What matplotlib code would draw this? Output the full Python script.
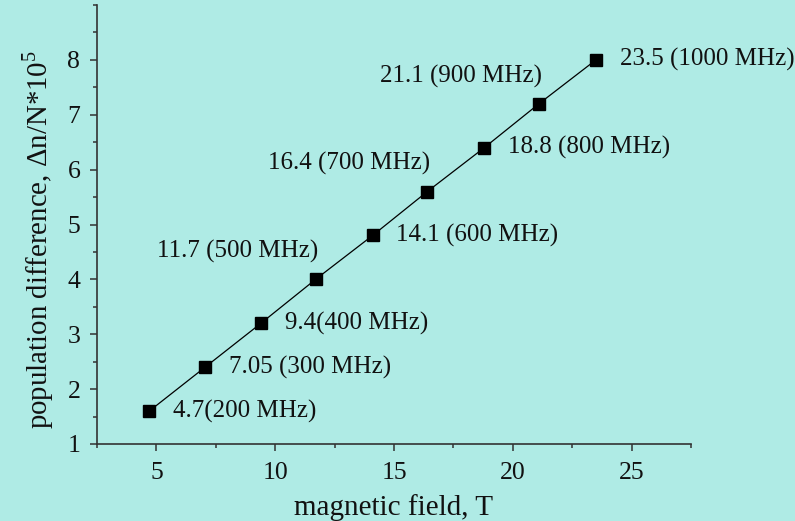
import matplotlib
matplotlib.use("Agg")
import matplotlib.pyplot as plt
from matplotlib.ticker import MultipleLocator

# data: magnetic field (T) vs population difference
field = [4.7, 7.05, 9.4, 11.7, 14.1, 16.4, 18.8, 21.1, 23.5]
pop_diff = [1.6, 2.4, 3.2, 4.0, 4.8, 5.6, 6.4, 7.2, 8.0]
labels = ["4.7(200 MHz)", "7.05 (300 MHz)", "9.4(400 MHz)", "11.7 (500 MHz)",
          "14.1 (600 MHz)", "16.4 (700 MHz)", "18.8 (800 MHz)",
          "21.1 (900 MHz)", "23.5 (1000 MHz)"]
# which labels sit above-left of their point
above_left = [False, False, False, True, False, True, False, True, False]

bg = "#afebe5"
axis_col = "#333333"

plt.rcParams["font.family"] = ["Liberation Serif", "DejaVu Serif"]
plt.rcParams["mathtext.fontset"] = "custom"
plt.rcParams["mathtext.rm"] = "Liberation Serif"

fig = plt.figure(figsize=(7.95, 5.21), dpi=100, facecolor=bg)
ax = fig.add_axes([97 / 795, 77 / 521, 594 / 795, 439 / 521])
ax.set_facecolor(bg)

ax.plot(field, pop_diff, color="black", lw=0.9, marker="s", ms=8.5,
        mfc="black", mec="black")

for x, y, txt, up in zip(field, pop_diff, labels, above_left):
    if up:
        ax.annotate(txt, (x, y), xytext=(2, 20), textcoords="offset points",
                    ha="right", va="center", fontsize=18, color="#111111")
    else:
        ax.annotate(txt, (x, y), xytext=(17, 0), textcoords="offset points",
                    ha="left", va="center", fontsize=18, color="#111111")

ax.set_xlim(2.5, 27.5)
ax.set_ylim(1, 9)
ax.xaxis.set_major_locator(MultipleLocator(5))
ax.xaxis.set_minor_locator(MultipleLocator(2.5))
ax.yaxis.set_major_locator(MultipleLocator(1))
ax.yaxis.set_minor_locator(MultipleLocator(0.5))
ax.set_yticks(range(1, 9))

for s in ["top", "right"]:
    ax.spines[s].set_visible(False)
for s in ["left", "bottom"]:
    ax.spines[s].set_color(axis_col)
    ax.spines[s].set_linewidth(1.2)

ax.tick_params(which="major", direction="out", length=5, width=1.1,
               color=axis_col, labelsize=18.5, labelcolor="#111111")
ax.tick_params(axis="x", which="major", pad=8)
ax.tick_params(axis="y", which="major", pad=7)
ax.tick_params(which="minor", direction="out", length=3, width=1.1,
               color=axis_col)

ax.set_xlabel("magnetic field, T", fontsize=21, color="#111111")
ax.set_ylabel(r"population difference, Δn/N*10$^{\mathregular{5}}$",
              fontsize=20.8, color="#111111")
ax.xaxis.set_label_coords(0.5, -0.115)
ax.yaxis.set_label_coords(-0.069, 0.465)

fig.savefig("out.png", dpi=100, facecolor=bg)
